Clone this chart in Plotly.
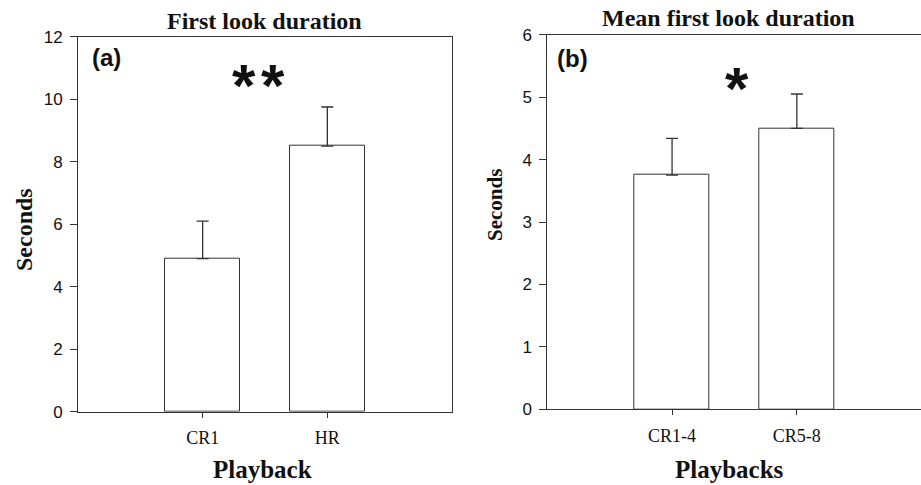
import plotly.graph_objects as go

# Panel (a)
cats_a = ["CR1", "HR"]
vals_a = [4.9, 8.5]
err_a = [1.2, 1.25]
# Panel (b)
cats_b = ["CR1-4", "CR5-8"]
vals_b = [3.75, 4.5]
err_b = [0.59, 0.55]

W, H = 921, 485
SERIF = "Liberation Serif"
SANS = "Liberation Sans"
LINE = "#333333"

def px(x):
    return x / W

def py(y):
    return 1 - y / H

fig = go.Figure()

fig.add_trace(go.Bar(
    x=[0, 1], y=vals_a, width=0.6, xaxis="x", yaxis="y",
    marker=dict(color="white", line=dict(color=LINE, width=1)),
    error_y=dict(type="data", array=err_a, arrayminus=[0, 0], symmetric=False,
                 color=LINE, thickness=1.3, width=6),
    showlegend=False, hoverinfo="skip"))

fig.add_trace(go.Bar(
    x=[0, 1], y=vals_b, width=0.6, xaxis="x2", yaxis="y2",
    marker=dict(color="white", line=dict(color=LINE, width=1)),
    error_y=dict(type="data", array=err_b, arrayminus=[0, 0], symmetric=False,
                 color=LINE, thickness=1.3, width=6),
    showlegend=False, hoverinfo="skip"))

axis_common = dict(showgrid=False, zeroline=False, showline=True, linecolor=LINE, linewidth=1,
                   ticks="outside", tickcolor=LINE, automargin=False)

fig.update_layout(
    width=W, height=H,
    margin=dict(l=0, r=0, t=0, b=0),
    plot_bgcolor="white", paper_bgcolor="white",
    bargap=0,
    xaxis=dict(domain=[px(78), px(452)], range=[-1, 2], tickvals=[0, 1], ticktext=cats_a,
               anchor="y", mirror=True, ticklen=5,
               tickfont=dict(family=SERIF, size=18, color="#111"), ticklabelstandoff=5,
               **axis_common),
    yaxis=dict(domain=[py(411.7), py(36.7)], range=[0, 12], tickvals=[0, 2, 4, 6, 8, 10, 12],
               anchor="x", mirror=True, ticklen=7,
               tickfont=dict(family=SANS, size=17, color="#111"), ticklabelstandoff=4,
               **axis_common),
    xaxis2=dict(domain=[px(547.3), 1.0], range=[-1, 1.995], tickvals=[0, 1], ticktext=cats_b,
                anchor="y2", mirror=True, ticklen=5,
                tickfont=dict(family=SERIF, size=18, color="#111"), ticklabelstandoff=5,
                **axis_common),
    yaxis2=dict(domain=[py(409.3), py(34.7)], range=[0, 6], tickvals=[0, 1, 2, 3, 4, 5, 6],
                anchor="x2", mirror=False, ticklen=7,
                tickfont=dict(family=SANS, size=17, color="#111"), ticklabelstandoff=4,
                **axis_common),
)

def ann(text, x, y, size, family, bold=False, angle=0, color="#111"):
    t = f"<b>{text}</b>" if bold else text
    fig.add_annotation(text=t, x=px(x), y=py(y), xref="paper", yref="paper",
                       showarrow=False, xanchor="center", yanchor="middle", textangle=angle,
                       font=dict(family=family, size=size, color=color))

# Titles
ann("First look duration", 264, 21, 24, SERIF, bold=True)
ann("Mean first look duration", 728, 18, 24, SERIF, bold=True)
# Axis titles
ann("Seconds", 24, 230, 24, SERIF, bold=True, angle=-90)
ann("Seconds", 495, 205, 21, SERIF, bold=True, angle=-90)
ann("Playback", 262, 469, 25, SERIF, bold=True)
ann("Playbacks", 729, 469, 25, SERIF, bold=True)
# Panel labels
ann("(a)", 106, 57, 24, SANS, bold=True)
ann("(b)", 572, 58, 24, SANS, bold=True)
# Significance
ann("*", 243.5, 85.5, 60, SANS, bold=True)
ann("*", 273, 85.5, 60, SANS, bold=True)
ann("*", 736.5, 88, 60, SANS, bold=True)

fig.write_html("out.html", config={"displayModeBar": False},
               post_script="document.body.style.margin='0';document.body.style.overflow='hidden';")
